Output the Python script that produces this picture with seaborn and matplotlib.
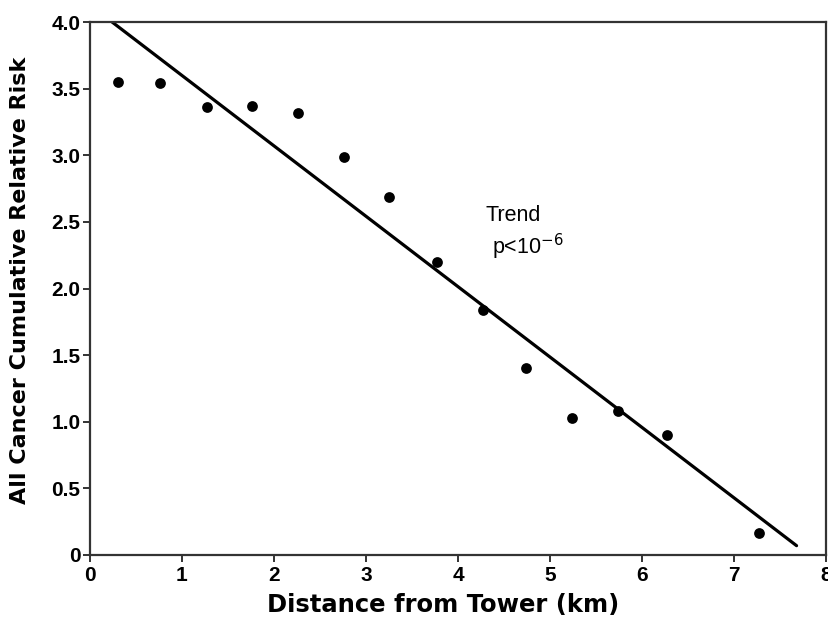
import matplotlib
matplotlib.use("Agg")
import matplotlib.pyplot as plt
import seaborn as sns
import pandas as pd

# data
distance_km = [0.30, 0.76, 1.27, 1.76, 2.26, 2.76, 3.25, 3.77, 4.27, 4.74, 5.24, 5.74, 6.27, 7.27]
relative_risk = [3.55, 3.54, 3.36, 3.37, 3.32, 2.99, 2.69, 2.20, 1.84, 1.40, 1.03, 1.08, 0.90, 0.165]
trend_x = [0.24, 7.68]
trend_y = [4.0, 0.07]
x_ticks = [0, 1, 2, 3, 4, 5, 6, 7, 8]
y_ticks = [0, 0.5, 1.0, 1.5, 2.0, 2.5, 3.0, 3.5, 4.0]
y_tick_labels = ["0", "0.5", "1.0", "1.5", "2.0", "2.5", "3.0", "3.5", "4.0"]

sns.set_style("ticks")
plt.rcParams["font.family"] = ["Liberation Sans", "DejaVu Sans"]
plt.rcParams["text.color"] = "black"
plt.rcParams["axes.labelcolor"] = "black"
plt.rcParams["xtick.labelcolor"] = "black"
plt.rcParams["ytick.labelcolor"] = "black"

fig = plt.figure(figsize=(8.29, 6.19), dpi=100)
ax = fig.add_axes([90 / 829, 1 - 555 / 619, 736 / 829, 533 / 619])

pts = pd.DataFrame({"d": distance_km, "r": relative_risk})
fit = pd.DataFrame({"d": trend_x, "r": trend_y})

sns.lineplot(data=fit, x="d", y="r", ax=ax, color="black", linewidth=2.3, zorder=2)
sns.scatterplot(data=pts, x="d", y="r", ax=ax, color="black", s=60, edgecolor="black",
                linewidth=0, zorder=3)

ax.set_xlim(0, 8)
ax.set_ylim(0, 4.0)
ax.set_xticks(x_ticks)
ax.set_xticklabels([str(t) for t in x_ticks])
ax.set_yticks(y_ticks)
ax.set_yticklabels(y_tick_labels)

for side in ["left", "bottom", "top", "right"]:
    ax.spines[side].set_visible(True)
    ax.spines[side].set_color("#333333")
    ax.spines[side].set_linewidth(1.6)

ax.tick_params(axis="both", which="major", direction="out", length=5, width=1.4,
               color="#333333", labelsize=15, pad=2)
ax.tick_params(axis="x", pad=3)
for lab in ax.get_xticklabels() + ax.get_yticklabels():
    lab.set_fontweight("bold")

ax.set_xlabel("Distance from Tower (km)", fontsize=17.5, fontweight="bold",
              family=["DejaVu Sans"])
ax.xaxis.set_label_coords((443 - 90) / 736, -(617 - 555) / 533 + 0.0)
ax.xaxis.label.set_va("bottom")
ax.set_ylabel("All Cancer Cumulative Relative Risk", fontsize=16, fontweight="bold",
              family=["DejaVu Sans"])
ax.yaxis.set_label_coords((30 - 90) / 736, (555 - 280) / 533)

ax.text(4.3, 2.55, "Trend", fontsize=15.5, ha="left", va="center")
ax.text(4.37, 2.31, "p<10$^{-6}$", fontsize=15.5, ha="left", va="center")

fig.savefig("out.png", dpi=100)
